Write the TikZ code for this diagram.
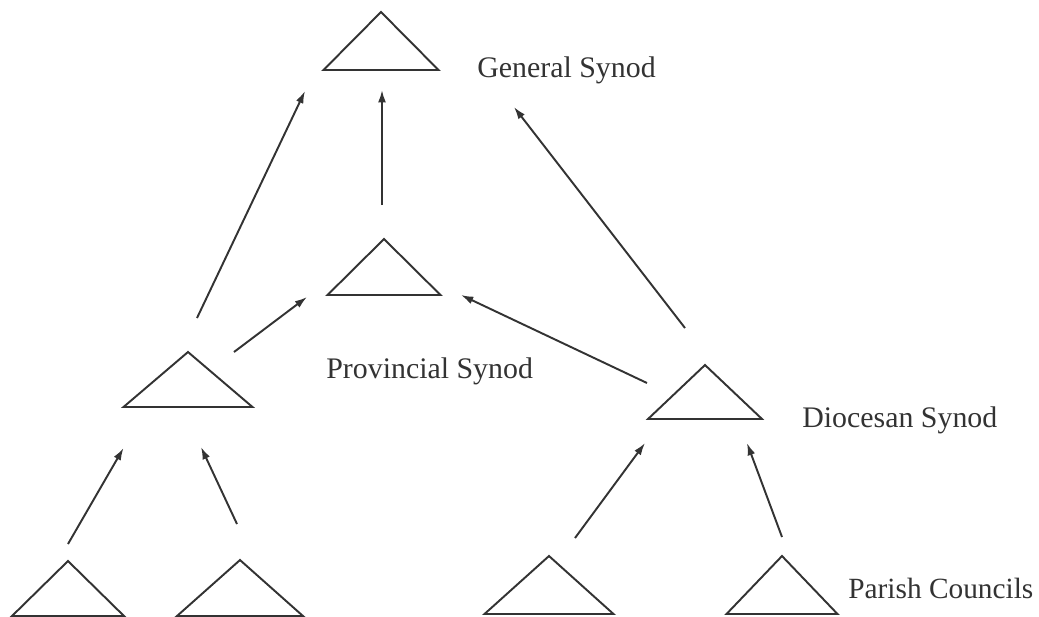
\documentclass[tikz,border=0pt]{standalone}
\usepackage{fontspec}
\setmainfont{Liberation Serif}
\usetikzlibrary{shapes.geometric, arrows.meta, positioning}

\begin{document}
\begin{tikzpicture}[
        x=0.02cm, y=-0.02cm,
        synod/.style={
            isosceles triangle,
            isosceles triangle stretches,
            shape border rotate=90,
            draw=black!80,
            line width=1.1pt,
            inner sep=0pt,
            outer sep=0pt,
            anchor=lower side
        },
        caption/.style={
            anchor=base west,
            inner sep=0pt,
            text=black!80,
            font=\fontsize{17}{20}\selectfont
        },
        arrow/.style={-{Latex[length=7pt, width=4.5pt]}, line width=1.1pt, draw=black!80}
    ]
    \useasboundingbox (0,0) rectangle (1039,616);

    \node (gs) [synod, minimum width=2.3cm, minimum height=1.16cm] at (381,70) {};
    \node (ps) [synod, minimum width=2.26cm, minimum height=1.12cm] at (384,295) {};
    \node (ds1) [synod, minimum width=2.58cm, minimum height=1.1cm] at (188,407) {};
    \node (ds2) [synod, minimum width=2.28cm, minimum height=1.08cm] at (705,419) {};

    \node (pc1) [synod, minimum width=2.24cm, minimum height=1.1cm] at (68,616) {};
    \node (pc2) [synod, minimum width=2.52cm, minimum height=1.12cm] at (240,616) {};
    \node (pc3) [synod, minimum width=2.58cm, minimum height=1.16cm] at (549,614) {};
    \node (pc4) [synod, minimum width=2.22cm, minimum height=1.16cm] at (782,614) {};

    \node (gslabel) [caption] at (477,77) {General Synod};
    \node (pslabel) [caption] at (326,378) {Provincial Synod};
    \node (dslabel) [caption] at (802,427) {Diocesan Synod};
    \node (pclabel) [caption, font=\fontsize{16.7}{20}\selectfont] at (848,598) {Parish Councils};

    \draw [arrow] ([shift={(9,-34)}]ds1.apex) -- ([shift={(-18.5,21)}]gs.left corner);
    \draw [arrow] ([shift={(-2,-34)}]ps.apex) -- ([shift={(1,20)}]gs.lower side);
    \draw [arrow] ([shift={(-20,-37)}]ds2.apex) -- ([shift={(75.5,37)}]gs.right corner);
    \draw [arrow] ([shift={(46,0)}]ds1.apex) -- ([shift={(-20.5,2)}]ps.left corner);
    \draw [arrow] ([shift={(-58,18)}]ds2.apex) -- ([shift={(20.5,0)}]ps.right corner);

    \draw [arrow] ([shift={(0,-17)}]pc1.apex) -- ([shift={(0,41)}]ds1.left corner);
    \draw [arrow] ([shift={(-3,-36)}]pc2.apex) -- ([shift={(13,40)}]ds1.lower side);
    \draw [arrow] ([shift={(26,-18)}]pc3.apex) -- ([shift={(-3,24)}]ds2.left corner);
    \draw [arrow] ([shift={(0,-19)}]pc4.apex) -- ([shift={(42,24)}]ds2.lower side);

\end{tikzpicture}
\end{document}
